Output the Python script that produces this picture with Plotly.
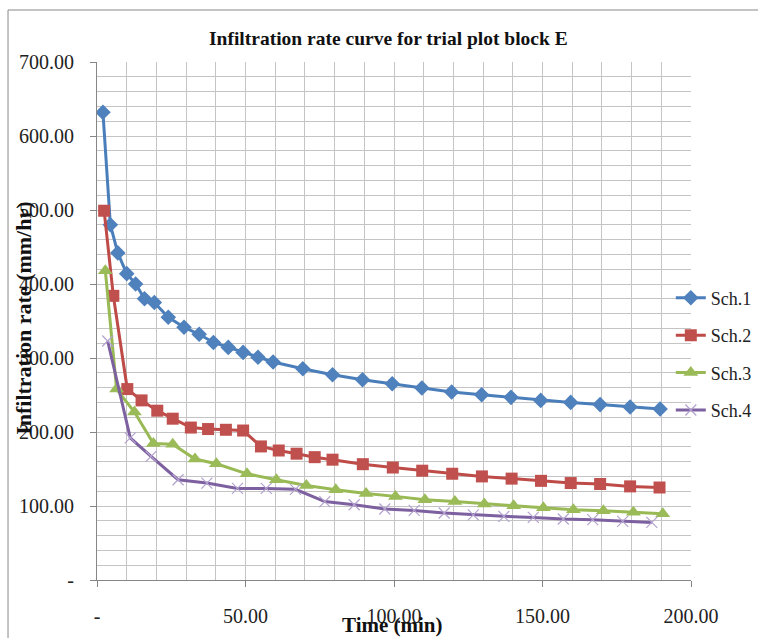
import plotly.graph_objects as go

# Infiltration rate measurements (time in minutes, rate in mm/hr)
sch1_time = [2, 4.5, 7, 10, 13, 16, 19.3, 24, 29.3, 34.4, 39.2, 44.2, 49.2, 54.2, 59.3, 69.3,
             79.3, 89.4, 99.4, 109.4, 119.4, 129.5, 139.4, 149.4, 159.5, 169.4, 179.5, 189.6]
sch1_rate = [632, 480, 442, 414, 400, 380, 375, 355, 341.5, 332, 321, 314.3, 307.6, 301, 294.6, 285.5,
             277.4, 270.7, 265.3, 259.4, 254, 250.4, 246.8, 242.7, 240, 237, 233.8, 231]

sch2_time = [2.4, 5.5, 10.2, 15, 20.3, 25.5, 31.6, 37.4, 43.4, 49.2, 55.2, 61.2, 67.2, 73.3, 79.3,
             89.5, 99.6, 109.5, 119.6, 129.6, 139.6, 149.5, 159.5, 169.4, 179.5, 189.4]
sch2_rate = [499, 384, 258, 242.7, 228.8, 218, 206, 204, 203, 202, 180.5, 175, 170.7, 166, 162.6,
             156.5, 152, 147.7, 143.6, 140, 137, 134, 131, 129.7, 126.5, 125]

sch3_time = [2.8, 6.6, 12.6, 19, 25.5, 33, 40.2, 50.5, 60.4, 70.5, 80.4, 90.6, 100.5, 110.4,
             120.5, 130.4, 140.3, 150.3, 160.4, 170.5, 180.6, 190.5]
sch3_rate = [418, 258, 227, 184.5, 183.5, 163.5, 157, 143.5, 135.5, 127.8, 122, 116.8, 113, 108.5,
             106, 102.7, 100.4, 97.5, 95, 93.6, 91.4, 89.6]

sch4_time = [3.6, 11.2, 18.2, 27.3, 37, 47.3, 57, 66.8, 76.7, 86.6, 96.9, 106.8, 116.9, 126.7,
             137, 146.9, 157, 166.9, 177, 186.8]
sch4_rate = [323, 192, 167, 135.5, 131, 123.8, 123.8, 122.5, 106, 101.7, 96, 94, 90.5, 88,
             86, 84.6, 82.4, 81.5, 79.2, 77.8]

series_names = ["Sch.1", "Sch.2", "Sch.3", "Sch.4"]

x_tickvals = [0, 50, 100, 150, 200]
x_ticktext = ["-", "50.00", "100.00", "150.00", "200.00"]
y_tickvals = [0, 100, 200, 300, 400, 500, 600, 700]
y_ticktext = ["-", "100.00", "200.00", "300.00", "400.00", "500.00", "600.00", "700.00"]

FONT = "'Liberation Serif', 'Times New Roman', 'DejaVu Serif', serif"
GRID = "#c4c4c4"
AXIS = "#868686"

fig = go.Figure()

fig.add_trace(go.Scatter(
    x=sch1_time, y=sch1_rate, name=series_names[0], mode="lines+markers", legendgroup="a",
    line=dict(color="#4A7EBB", width=3),
    marker=dict(symbol="diamond", size=12, color="#4F81BD", line=dict(width=0)),
))
fig.add_trace(go.Scatter(
    x=sch2_time, y=sch2_rate, name=series_names[1], mode="lines+markers", legendgroup="b",
    line=dict(color="#BE4B48", width=3),
    marker=dict(symbol="square", size=12, color="#C0504D", line=dict(width=0)),
))
fig.add_trace(go.Scatter(
    x=sch3_time, y=sch3_rate, name=series_names[2], mode="lines+markers", legendgroup="c",
    line=dict(color="#98B954", width=3),
    marker=dict(symbol="triangle-up", size=13, color="#9BBB59", line=dict(width=0)),
))
fig.add_trace(go.Scatter(
    x=sch4_time, y=sch4_rate, name=series_names[3], mode="lines+markers", legendgroup="d",
    line=dict(color="#7D60A0", width=3),
    marker=dict(symbol="x-thin-open", size=11, color="#B3A2CF", line=dict(width=1.2, color="#B3A2CF")),
))

fig.update_layout(
    width=758, height=638,
    margin=dict(l=97, r=67, t=62, b=58, autoexpand=False),
    paper_bgcolor="white", plot_bgcolor="white",
    font=dict(family=FONT, size=20, color="#222222"),
    showlegend=True,
    legend=dict(
        x=0.966, xanchor="left", y=0.580, yanchor="top",
        bgcolor="rgba(0,0,0,0)", borderwidth=0,
        font=dict(family=FONT, size=18, color="#222222"),
        tracegroupgap=11, itemwidth=30,
    ),
    xaxis=dict(
        range=[0, 200], tickvals=x_tickvals, ticktext=x_ticktext,
        showgrid=True, gridcolor=GRID, gridwidth=1,
        minor=dict(dtick=10, showgrid=True, gridcolor=GRID, gridwidth=1),
        showline=True, linecolor=AXIS, linewidth=1,
        ticks="outside", ticklen=6, tickcolor=AXIS, ticklabelstandoff=12,
        zeroline=False, tickfont=dict(family=FONT, size=20, color="#222222"),
    ),
    yaxis=dict(
        range=[0, 700], tickvals=y_tickvals, ticktext=y_ticktext,
        showgrid=True, gridcolor=GRID, gridwidth=1,
        minor=dict(dtick=20, showgrid=True, gridcolor=GRID, gridwidth=1),
        showline=True, linecolor=AXIS, linewidth=1,
        ticks="outside", ticklen=6, tickcolor=AXIS, ticklabelstandoff=12,
        zeroline=False, tickfont=dict(family=FONT, size=20, color="#222222"),
    ),
    annotations=[
        dict(text="<b>Infiltration rate curve for trial plot block E</b>",
             xref="paper", yref="paper", x=0.49, y=1.046, xanchor="center", yanchor="middle",
             showarrow=False, font=dict(family=FONT, size=19.5, color="#111111")),
        dict(text="<b>Infiltration rate (mm/hr)</b>",
             xref="paper", yref="paper", x=-0.123, y=0.506, xanchor="center", yanchor="middle",
             textangle=-90, showarrow=False, font=dict(family=FONT, size=22, color="#111111")),
        dict(text="<b>Time (min)</b>",
             xref="paper", yref="paper", x=0.497, y=-0.0875, xanchor="center", yanchor="middle",
             showarrow=False, font=dict(family=FONT, size=21, color="#111111")),
    ],
    shapes=[
        dict(type="rect", xref="paper", yref="paper",
             x0=-0.1498, x1=1.3, y0=-0.3, y1=1.1004,
             line=dict(color="#898989", width=1), fillcolor="rgba(0,0,0,0)", layer="below"),
    ],
)

fig.write_html("out.html")
